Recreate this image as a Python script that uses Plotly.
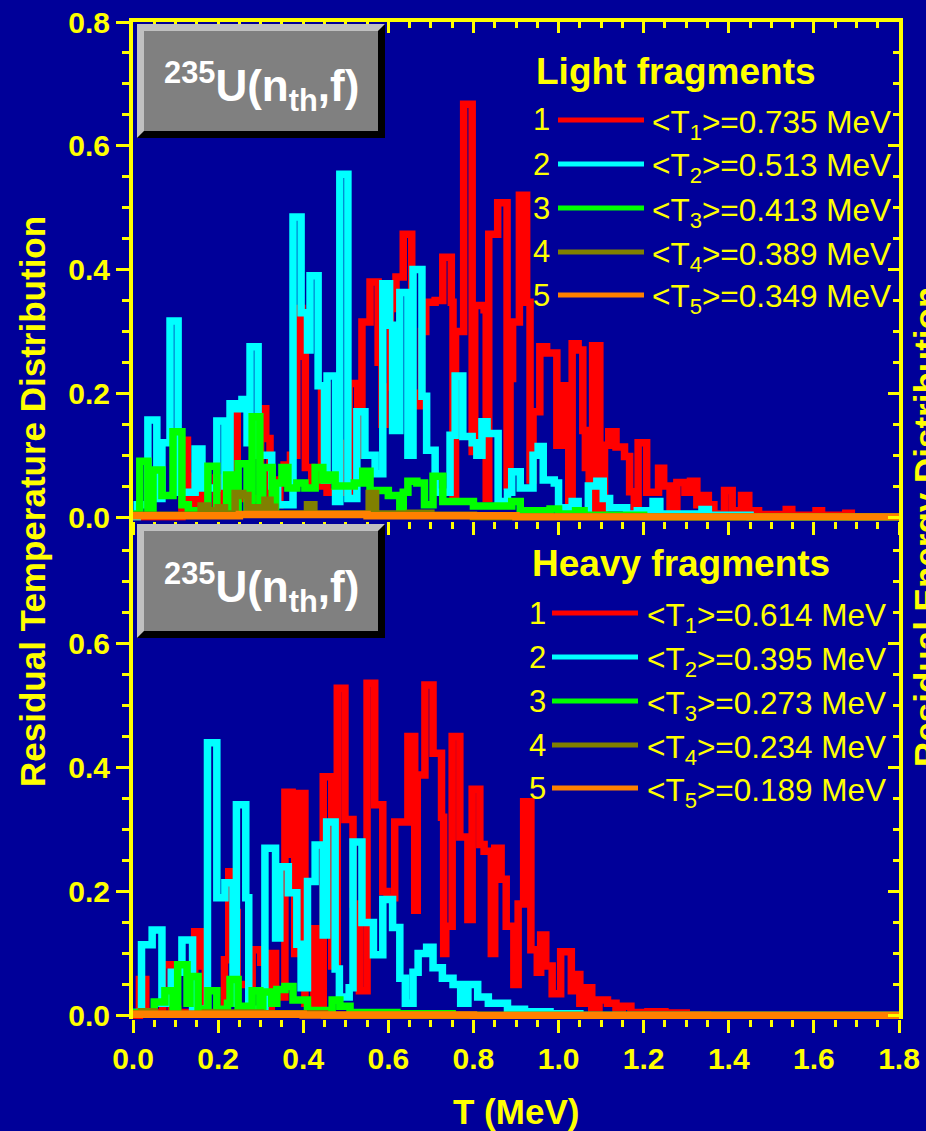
import plotly.graph_objects as go

# ---------------------------------------------------------------------------
# Residual temperature distributions, 235U(n_th,f)
# Each series: T values (MeV) where a new histogram step starts, and the
# probability of that step.  Steps run until the next T value.
# ---------------------------------------------------------------------------

# ---- light fragments -------------------------------------------------------
light_t1 = [0.0, 0.115, 0.128, 0.135, 0.145, 0.158, 0.165, 0.195, 0.205, 0.235,
            0.245, 0.30, 0.312, 0.322, 0.345, 0.355, 0.37, 0.385, 0.397, 0.405,
            0.42, 0.443, 0.456, 0.478, 0.488, 0.508, 0.528, 0.538, 0.557, 0.576,
            0.585, 0.592, 0.605, 0.618, 0.635, 0.655, 0.667, 0.678, 0.688, 0.71,
            0.728, 0.748, 0.752, 0.758, 0.777, 0.797, 0.803, 0.825, 0.83, 0.836,
            0.857, 0.879, 0.886, 0.892, 0.908, 0.925, 0.933, 0.94, 0.956, 0.972,
            0.996, 1.008, 1.024, 1.032, 1.046, 1.057, 1.063, 1.072, 1.08, 1.097,
            1.108, 1.118, 1.135, 1.155, 1.167, 1.178, 1.187, 1.207, 1.235, 1.247,
            1.262, 1.278, 1.297, 1.31, 1.325, 1.337, 1.352, 1.365, 1.39, 1.408,
            1.43, 1.447, 1.47, 1.535, 1.548, 1.605, 1.618, 1.675, 1.688]
light_p1 = [0.0, 0.124, 0.01, 0.066, 0.01, 0.047, 0.01, 0.063, 0.02, 0.164,
            0.03, 0.175, 0.127, 0.02, 0.06, 0.084, 0.10, 0.337, 0.26, 0.08,
            0.05, 0.212, 0.04, 0.119, 0.04, 0.216, 0.10, 0.315, 0.38, 0.25,
            0.15, 0.21, 0.337, 0.388, 0.457, 0.20, 0.18, 0.30, 0.347, 0.35,
            0.42, 0.347, 0.03, 0.30, 0.667, 0.106, 0.342, 0.335, 0.03, 0.457,
            0.508, 0.05, 0.224, 0.315, 0.52, 0.347, 0.06, 0.17, 0.275, 0.265,
            0.116, 0.212, 0.02, 0.28, 0.27, 0.14, 0.08, 0.01, 0.277, 0.01,
            0.116, 0.138, 0.113, 0.098, 0.041, 0.015, 0.12, 0.04, 0.079, 0.05,
            0.016, 0.056, 0.04, 0.058, 0.02, 0.035, 0.02, 0.005, 0.043, 0.01,
            0.035, 0.01, 0.004, 0.012, 0.003, 0.01, 0.003, 0.006, 0.0]

light_t2 = [0.0, 0.01, 0.035, 0.056, 0.068, 0.087, 0.106, 0.146, 0.162, 0.197,
            0.216, 0.228, 0.244, 0.256, 0.268, 0.275, 0.294, 0.326, 0.34, 0.376,
            0.395, 0.41, 0.416, 0.435, 0.45, 0.456, 0.476, 0.486, 0.505, 0.526,
            0.545, 0.569, 0.587, 0.603, 0.61, 0.627, 0.646, 0.658, 0.679, 0.69,
            0.71, 0.745, 0.757, 0.775, 0.797, 0.808, 0.82, 0.832, 0.858, 0.88,
            0.89, 0.91, 0.94, 0.952, 0.964, 0.99, 1.0, 1.032, 1.046, 1.07,
            1.09, 1.105, 1.12, 1.16, 1.185, 1.222, 1.238, 1.337, 1.352, 1.45]
light_p2 = [0.0, 0.02, 0.157, 0.03, 0.12, 0.317, 0.04, 0.11, 0.047, 0.155,
            0.05, 0.183, 0.175, 0.19, 0.12, 0.275, 0.10, 0.05, 0.02, 0.485,
            0.33, 0.27, 0.39, 0.212, 0.06, 0.228, 0.025, 0.554, 0.03, 0.17,
            0.10, 0.07, 0.377, 0.31, 0.14, 0.363, 0.10, 0.40, 0.195, 0.108,
            0.04, 0.132, 0.228, 0.13, 0.12, 0.10, 0.154, 0.135, 0.025, 0.04,
            0.073, 0.047, 0.10, 0.114, 0.06, 0.055, 0.015, 0.025, 0.01, 0.05,
            0.058, 0.03, 0.015, 0.005, 0.01, 0.025, 0.005, 0.012, 0.003, 0.0]

light_t3 = [0.0, 0.016, 0.035, 0.047, 0.068, 0.094, 0.115, 0.13, 0.176, 0.197,
            0.22, 0.235, 0.247, 0.268, 0.28, 0.298, 0.305, 0.327, 0.335, 0.35,
            0.364, 0.385, 0.404, 0.428, 0.446, 0.46, 0.475, 0.52, 0.54, 0.557,
            0.60, 0.627, 0.635, 0.646, 0.667, 0.685, 0.705, 0.728, 0.785, 0.80,
            0.89, 0.91, 0.98, 1.0, 1.04, 1.06, 1.2]
light_p3 = [0.005, 0.09, 0.005, 0.076, 0.035, 0.138, 0.02, 0.01, 0.082, 0.005,
            0.068, 0.01, 0.086, 0.01, 0.162, 0.01, 0.08, 0.01, 0.055, 0.08,
            0.047, 0.055, 0.047, 0.08, 0.06, 0.068, 0.05, 0.055, 0.074, 0.043,
            0.035, 0.005, 0.04, 0.058, 0.055, 0.02, 0.066, 0.025, 0.025, 0.018,
            0.025, 0.01, 0.013, 0.005, 0.01, 0.003, 0.0]

light_t4 = [0.0, 0.16, 0.175, 0.2, 0.215, 0.24, 0.258, 0.27, 0.31, 0.322,
            0.333, 0.41, 0.425, 0.555, 0.57, 0.65, 0.70, 0.80]
light_p4 = [0.003, 0.018, 0.01, 0.015, 0.005, 0.038, 0.035, 0.015, 0.027, 0.016,
            0.005, 0.02, 0.005, 0.038, 0.005, 0.006, 0.003, 0.0]

light_t5 = [0.0, 0.25, 0.55, 0.9]
light_p5 = [0.002, 0.004, 0.002, 0.0]

# ---- heavy fragments -------------------------------------------------------
heavy_t1 = [0.0, 0.015, 0.03, 0.07, 0.09, 0.105, 0.145, 0.16, 0.17, 0.215,
            0.225, 0.237, 0.245, 0.28, 0.30, 0.31, 0.325, 0.335, 0.357, 0.374,
            0.38, 0.388, 0.404, 0.425, 0.438, 0.447, 0.467, 0.48, 0.498, 0.517,
            0.532, 0.55, 0.568, 0.587, 0.597, 0.615, 0.646, 0.662, 0.668, 0.686,
            0.705, 0.725, 0.73, 0.735, 0.75, 0.768, 0.787, 0.797, 0.815, 0.825,
            0.842, 0.85, 0.865, 0.877, 0.895, 0.905, 0.918, 0.935, 0.95, 0.958,
            0.97, 0.985, 1.005, 1.03, 1.035, 1.05, 1.062, 1.078, 1.095, 1.115,
            1.135, 1.15, 1.17, 1.21, 1.25, 1.3, 1.35]
heavy_p1 = [0.0, 0.058, 0.005, 0.082, 0.01, 0.005, 0.135, 0.08, 0.005, 0.09,
            0.232, 0.166, 0.05, 0.106, 0.086, 0.005, 0.10, 0.03, 0.36, 0.26,
            0.10, 0.358, 0.02, 0.14, 0.02, 0.385, 0.08, 0.528, 0.316, 0.18,
            0.04, 0.536, 0.34, 0.20, 0.19, 0.312, 0.45, 0.17, 0.388, 0.533,
            0.423, 0.32, 0.10, 0.144, 0.45, 0.288, 0.155, 0.365, 0.276, 0.265,
            0.10, 0.27, 0.22, 0.144, 0.05, 0.18, 0.345, 0.106, 0.07, 0.13,
            0.08, 0.035, 0.103, 0.04, 0.066, 0.02, 0.045, 0.01, 0.025, 0.02,
            0.008, 0.015, 0.005, 0.006, 0.004, 0.001, 0.0]

heavy_t2 = [0.0, 0.02, 0.045, 0.068, 0.09, 0.115, 0.14, 0.175, 0.197, 0.216,
            0.235, 0.243, 0.265, 0.272, 0.31, 0.335, 0.345, 0.365, 0.385, 0.395,
            0.41, 0.428, 0.447, 0.455, 0.475, 0.485, 0.508, 0.517, 0.538, 0.565,
            0.587, 0.61, 0.627, 0.64, 0.658, 0.67, 0.69, 0.705, 0.727, 0.752,
            0.77, 0.787, 0.81, 0.835, 0.86, 0.88, 0.92, 0.98, 1.05]
heavy_p2 = [0.005, 0.114, 0.138, 0.02, 0.07, 0.122, 0.01, 0.44, 0.19, 0.214,
            0.02, 0.34, 0.19, 0.01, 0.27, 0.125, 0.24, 0.198, 0.115, 0.045,
            0.216, 0.275, 0.13, 0.312, 0.075, 0.03, 0.045, 0.28, 0.15, 0.098,
            0.187, 0.142, 0.06, 0.02, 0.07, 0.10, 0.11, 0.077, 0.06, 0.05,
            0.02, 0.05, 0.03, 0.02, 0.02, 0.01, 0.006, 0.003, 0.0]

heavy_t3 = [0.0, 0.05, 0.075, 0.094, 0.105, 0.127, 0.134, 0.153, 0.176, 0.197,
            0.222, 0.228, 0.247, 0.28, 0.298, 0.305, 0.326, 0.338, 0.357, 0.376,
            0.41, 0.468, 0.486, 0.51, 0.62, 0.75]
heavy_p3 = [0.005, 0.022, 0.04, 0.01, 0.082, 0.02, 0.063, 0.01, 0.04, 0.01,
            0.02, 0.058, 0.015, 0.04, 0.01, 0.038, 0.02, 0.042, 0.047, 0.025,
            0.008, 0.025, 0.015, 0.005, 0.003, 0.0]

heavy_t4 = [0.0, 0.02, 0.05, 0.17, 0.3, 0.45]
heavy_p4 = [0.003, 0.006, 0.002, 0.004, 0.003, 0.0]

heavy_t5 = [0.0, 0.4, 0.8]
heavy_p5 = [0.002, 0.001, 0.0]

series_labels = ["1", "2", "3", "4", "5"]
light_mean_T = ["0.735", "0.513", "0.413", "0.389", "0.349"]
heavy_mean_T = ["0.614", "0.395", "0.273", "0.234", "0.189"]

x_ticks_max = 1.8

# ---------------------------------------------------------------------------
BG = "#000099"
YEL = "#FFFF00"
COLORS = ["#FF0000", "#00FFFF", "#00FF00", "#808000", "#FF8000"]
FONT = "Liberation Sans, Arial, sans-serif"

W_FIG, H_FIG = 926, 1131
L, R, TOP, BOT = 133, 899, 22, 1019
PW, PH = R - L, BOT - TOP


def px(xp):
    return (xp - L) / PW


def py(yp):
    return (BOT - yp) / PH


fig = go.Figure()


def add_steps(t, p, color, xa, ya):
    fig.add_trace(go.Scatter(
        x=list(t) + [x_ticks_max], y=list(p) + [p[-1]],
        mode="lines", line=dict(color=color, width=7.5, shape="hv"),
        xaxis=xa, yaxis=ya, hoverinfo="skip", showlegend=False))


light = [(light_t1, light_p1), (light_t2, light_p2), (light_t3, light_p3),
         (light_t4, light_p4), (light_t5, light_p5)]
heavy = [(heavy_t1, heavy_p1), (heavy_t2, heavy_p2), (heavy_t3, heavy_p3),
         (heavy_t4, heavy_p4), (heavy_t5, heavy_p5)]

for (t, p), c in zip(light, COLORS):
    add_steps(t, p, c, "x2", "y2")
for (t, p), c in zip(heavy, COLORS):
    add_steps(t, p, c, "x", "y")

# empty traces so the mirrored frame axes get drawn
for xa, ya in [("x3", "y2"), ("x2", "y3"), ("x", "y4")]:
    fig.add_trace(go.Scatter(x=[], y=[], xaxis=xa, yaxis=ya,
                             showlegend=False, hoverinfo="skip"))

TICKFONT = dict(family=FONT, size=30, color=YEL, weight="bold")
Y_TOP = [-0.0056, 0.8]
Y_BOT = [-0.0056, 0.7985]


def out_axis(**kw):
    d = dict(ticks="outside", ticklen=13, tickwidth=3, tickcolor=YEL,
             showgrid=False, zeroline=False, tick0=0, dtick=0.2,
             tickformat=".1f", tickfont=TICKFONT, automargin=False,
             minor=dict(ticks="outside", ticklen=7, tickwidth=3,
                        tickcolor=YEL, dtick=0.05, showgrid=False))
    d.update(kw)
    return d


def in_axis(**kw):
    d = dict(ticks="inside", ticklen=11, tickwidth=3, tickcolor=YEL,
             showgrid=False, zeroline=False, tick0=0, dtick=0.2,
             showticklabels=False, showline=True, linecolor=YEL, linewidth=4,
             automargin=False,
             minor=dict(ticks="inside", ticklen=6, tickwidth=3,
                        tickcolor=YEL, dtick=0.05, showgrid=False))
    d.update(kw)
    return d


fig.update_layout(
    width=W_FIG, height=H_FIG,
    margin=dict(l=L, r=W_FIG - R, t=TOP, b=H_FIG - BOT, pad=0,
                autoexpand=False),
    paper_bgcolor=BG, plot_bgcolor=BG,
    showlegend=False,
    xaxis=out_axis(domain=[0, 1], anchor="y", range=[0, x_ticks_max],
                   showline=False),
    yaxis=out_axis(domain=[0, 0.5], anchor="x", range=Y_BOT,
                   showline=True, linecolor=YEL, linewidth=4),
    xaxis2=out_axis(domain=[0, 1], anchor="y2", range=[0, x_ticks_max],
                    matches="x", showline=False, showticklabels=False),
    yaxis2=out_axis(domain=[0.5, 1], anchor="x2", range=Y_TOP,
                    showline=True, linecolor=YEL, linewidth=4),
    xaxis3=in_axis(overlaying="x2", anchor="y2", side="top",
                   range=[0, x_ticks_max]),
    yaxis3=in_axis(overlaying="y2", anchor="x2", side="right", range=Y_TOP),
    yaxis4=in_axis(overlaying="y", anchor="x", side="right", range=Y_BOT),
)

shapes = []
annotations = []


def bevel_box(x0, y0, x1, y1, b=7):
    shapes.append(dict(type="rect", xref="paper", yref="paper", layer="above",
                       x0=px(x0), x1=px(x1), y0=py(y1), y1=py(y0),
                       fillcolor="#000000", line=dict(width=0)))
    pts = [(x0, y0), (x1, y0), (x1 - b, y0 + b), (x0 + b, y0 + b),
           (x0 + b, y1 - b), (x0, y1)]
    path = "M " + " L ".join(f"{px(a):.5f},{py(c):.5f}" for a, c in pts) + " Z"
    shapes.append(dict(type="path", xref="paper", yref="paper", layer="above",
                       path=path, fillcolor="#C0C0C0", line=dict(width=0)))
    shapes.append(dict(type="rect", xref="paper", yref="paper", layer="above",
                       x0=px(x0 + b), x1=px(x1 - b), y0=py(y1 - b), y1=py(y0 + b),
                       fillcolor="#808080", line=dict(width=0)))
    annotations.append(dict(
        xref="paper", yref="paper", x=px((x0 + x1) / 2), y=py((y0 + y1) / 2 + 6),
        text="<sup>235</sup>U(n<sub>th</sub>,f)", showarrow=False,
        font=dict(family=FONT, size=44, color="#FFFFFF", weight="bold"),
        xanchor="center", yanchor="middle"))


bevel_box(137, 24, 385, 138)
bevel_box(137, 524, 385, 638)


def legend_block(title, title_y, rows_y, means, num_x, line_x0, line_x1, text_x):
    annotations.append(dict(
        xref="paper", yref="paper", x=px(num_x - 7), y=py(title_y),
        text=title, showarrow=False, xanchor="left", yanchor="middle",
        font=dict(family=FONT, size=37, color=YEL, weight="bold")))
    for lab, m, c, ry in zip(series_labels, means, COLORS, rows_y):
        annotations.append(dict(
            xref="paper", yref="paper", x=px(num_x), y=py(ry),
            text=lab, showarrow=False, xanchor="center", yanchor="middle",
            font=dict(family=FONT, size=31, color=YEL)))
        shapes.append(dict(
            type="line", xref="paper", yref="paper", layer="above",
            x0=px(line_x0), x1=px(line_x1), y0=py(ry), y1=py(ry),
            line=dict(color=c, width=5)))
        annotations.append(dict(
            xref="paper", yref="paper", x=px(text_x), y=py(ry + 4),
            text=f"&lt;T<sub>{lab}</sub>&gt;={m} MeV", showarrow=False,
            xanchor="left", yanchor="middle",
            font=dict(family=FONT, size=31.5, color=YEL)))


legend_block("Light fragments", 72, [120, 164, 208, 252, 295], light_mean_T,
             541, 558, 644, 650)
legend_block("Heavy fragments", 563, [613, 657, 701, 745, 788], heavy_mean_T,
             537, 552, 638, 645)

TITLEFONT = dict(family=FONT, size=35, color=YEL, weight="bold")
annotations.append(dict(xref="paper", yref="paper", x=px(32), y=py(502),
                        text="Residual Temperature Distribution", textangle=-90,
                        showarrow=False, xanchor="center", yanchor="middle",
                        font=TITLEFONT))
annotations.append(dict(xref="paper", yref="paper", x=px(926), y=py(527),
                        text="Residual Energy Distribution", textangle=-90,
                        showarrow=False, xanchor="center", yanchor="middle",
                        font=TITLEFONT))
annotations.append(dict(xref="paper", yref="paper", x=px(516), y=py(1111),
                        text="T (MeV)", showarrow=False,
                        xanchor="center", yanchor="middle", font=TITLEFONT))

fig.update_layout(shapes=shapes, annotations=annotations)
fig.write_html("out.html")
